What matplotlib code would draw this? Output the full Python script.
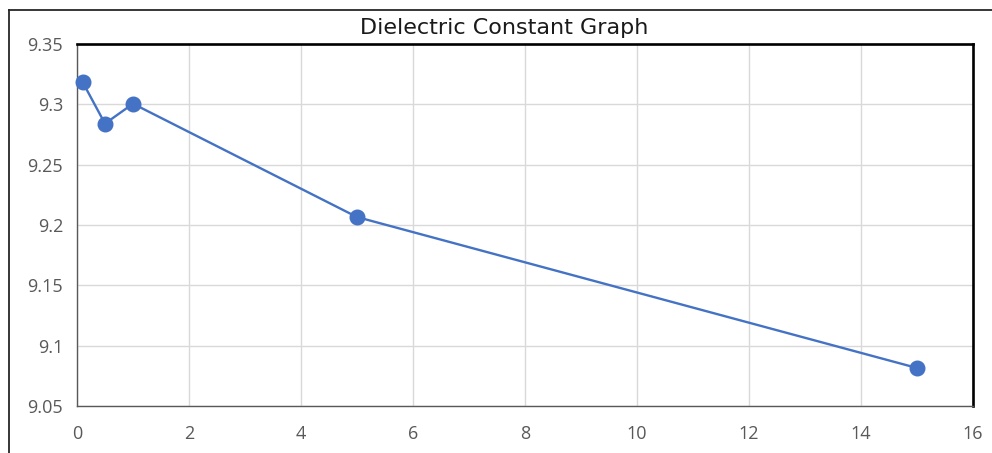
import matplotlib
matplotlib.use("Agg")
import matplotlib.pyplot as plt
from matplotlib.lines import Line2D


frequency = [0.1, 0.5, 1, 5, 15]
dielectric = [9.3185, 9.284, 9.3005, 9.2066, 9.0815]

x_ticks = [0, 2, 4, 6, 8, 10, 12, 14, 16]
y_ticks = [9.05, 9.1, 9.15, 9.2, 9.25, 9.3, 9.35]
y_labels = ["9.05", "9.1", "9.15", "9.2", "9.25", "9.3", "9.35"]

plt.rcParams["font.family"] = ["Open Sans", "DejaVu Sans"]

fig = plt.figure(figsize=(9.92, 4.53), dpi=100)
ax = fig.add_axes([0.0776, 0.1038, 0.9032, 0.7991])

# outer chart frame (runs off the right and bottom edge in the source)
fig.add_artist(Line2D([9 / 992, 1.0], [1 - 10 / 453, 1 - 10 / 453],
                      transform=fig.transFigure, color="#262626", lw=1.3))
fig.add_artist(Line2D([9 / 992, 9 / 992], [0.0, 1 - 10 / 453],
                      transform=fig.transFigure, color="#262626", lw=1.3))

ax.plot(frequency, dielectric, color="#4472C4", lw=1.7, marker="o",
        markersize=10.5, zorder=3, clip_on=False)

ax.set_xlim(0, 16)
ax.set_ylim(9.05, 9.35)
ax.set_xticks(x_ticks)
ax.set_yticks(y_ticks)
ax.set_yticklabels(y_labels)
ax.grid(True, color="#D9D9D9", lw=1)
ax.set_axisbelow(True)
ax.tick_params(length=0, labelsize=13, labelcolor="#595959")
ax.tick_params(axis="x", pad=14)
ax.tick_params(axis="y", pad=10)

for side in ("top", "right"):
    ax.spines[side].set_color("black")
    ax.spines[side].set_linewidth(1.9)
for side in ("left", "bottom"):
    ax.spines[side].set_color("#595959")
    ax.spines[side].set_linewidth(1.0)

fig.text(0.508, 1 - 28 / 453, "Dielectric Constant Graph", ha="center",
         va="center", fontsize=16, color="#1a1a1a",
         family=["DejaVu Sans"])

fig.savefig("out.png", dpi=100)
